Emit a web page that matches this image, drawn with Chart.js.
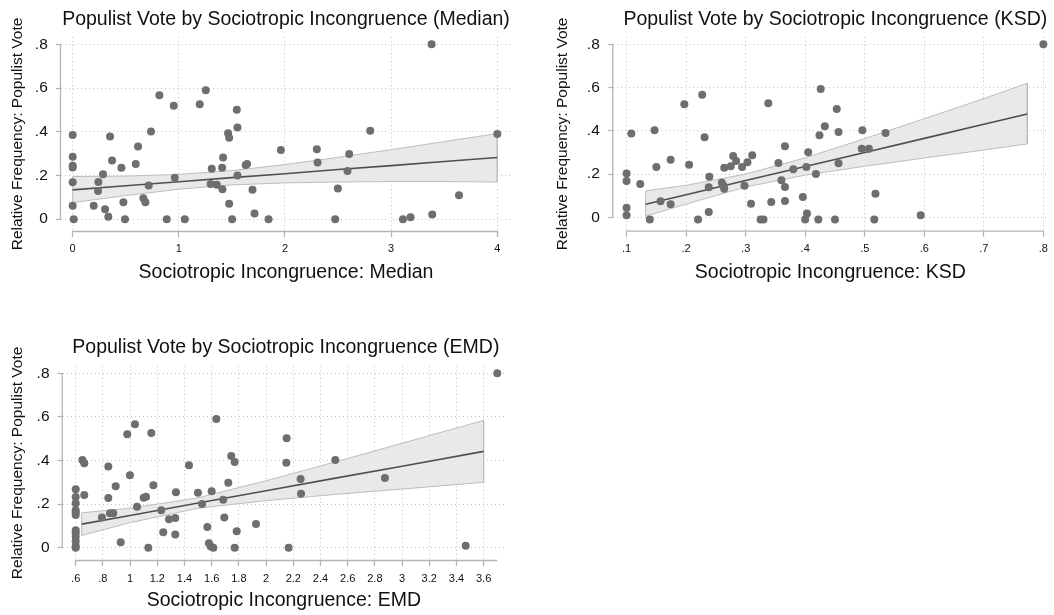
<!DOCTYPE html>
<html><head><meta charset="utf-8">
<script src="https://cdn.jsdelivr.net/npm/chart.js@4.4.1/dist/chart.umd.min.js"></script>
<style>
html,body{margin:0;padding:0;background:#fff;width:1054px;height:615px;overflow:hidden;}
canvas{position:absolute;}
</style></head><body>
<canvas id="c1" width="527" height="300" style="left:0px;top:0px;width:527px;height:300px"></canvas>
<canvas id="c2" width="527" height="300" style="left:527px;top:0px;width:527px;height:300px"></canvas>
<canvas id="c3" width="527" height="300" style="left:0px;top:315px;width:527px;height:300px"></canvas>
<script>
// ---------------- data ----------------
const yTicks = [0, 0.2, 0.4, 0.6, 0.8];
const yTickLabels = ['0', '.2', '.4', '.6', '.8'];

// Panel 1: Median
const medianTicks = [0, 1, 2, 3, 4];
const medianTickLabels = ['0', '1', '2', '3', '4'];
const medianX = [0,0,0,0,0,0,0.01,0.198,0.242,0.239,0.286,0.305,0.336,0.352,0.371,0.459,0.478,0.493,0.594,0.616,0.666,0.685,0.716,0.738,0.817,0.886,0.952,0.962,1.056,1.197,1.254,1.31,1.30,1.357,1.408,1.417,1.411,1.464,1.474,1.474,1.546,1.552,1.552,1.502,1.63,1.643,1.694,1.713,1.845,1.961,2.30,2.307,2.473,2.498,2.589,2.605,2.803,3.111,3.183,3.381,3.387,3.639,4.0];
const medianY = [0.385,0.286,0.244,0.236,0.169,0.062,0,0.062,0.17,0.129,0.206,0.046,0.011,0.378,0.268,0.235,0.078,0,0.253,0.332,0.096,0.078,0.154,0.401,0.567,0,0.519,0.19,0,0.526,0.59,0.231,0.161,0.158,0.235,0.282,0.137,0.393,0.372,0.071,0.501,0.42,0.2,0,0.248,0.253,0.135,0.026,0,0.317,0.32,0.259,0,0.14,0.221,0.298,0.404,0,0.009,0.8,0.021,0.11,0.39];
const medianFitX = [0, 0.5, 1, 1.5, 2, 2.5, 3, 3.5, 4];
const medianFit = [0.134, 0.153, 0.171, 0.190, 0.208, 0.227, 0.245, 0.264, 0.282];
const medianUpper = [0.195, 0.197, 0.205, 0.222, 0.250, 0.283, 0.318, 0.355, 0.392];
const medianLower = [0.076, 0.108, 0.137, 0.157, 0.166, 0.170, 0.172, 0.172, 0.170];

// Panel 2: KSD
const ksdTicks = [0.1, 0.2, 0.3, 0.4, 0.5, 0.6, 0.7, 0.8];
const ksdTickLabels = ['.1', '.2', '.3', '.4', '.5', '.6', '.7', '.8'];
const ksdX = [0.100,0.100,0.100,0.100,0.108,0.123,0.139,0.147,0.150,0.157,0.174,0.174,0.197,0.205,0.220,0.227,0.231,0.239,0.238,0.238,0.260,0.263,0.264,0.264,0.275,0.279,0.284,0.294,0.298,0.303,0.309,0.311,0.325,0.330,0.338,0.343,0.355,0.360,0.366,0.366,0.366,0.380,0.396,0.400,0.403,0.405,0.402,0.418,0.422,0.426,0.424,0.433,0.453,0.456,0.496,0.495,0.507,0.535,0.456,0.518,0.450,0.516,0.594,0.800];
const ksdY = [0.203,0.168,0.044,0.009,0.388,0.154,-0.01,0.402,0.233,0.074,0.266,0.060,0.523,0.243,-0.01,0.567,0.370,0.188,0.139,0.025,0.160,0.146,0.132,0.229,0.236,0.283,0.260,0.233,0.146,0.254,0.063,0.287,-0.01,-0.01,0.527,0.071,0.251,0.171,0.328,0.140,0.075,0.222,0.094,-0.01,0.018,0.301,0.233,0.200,-0.01,0.593,0.379,0.421,0.501,0.394,0.402,0.317,0.317,0.390,0.250,0.109,-0.01,-0.01,0.009,0.800];
const ksdFitX = [0.132, 0.2, 0.3, 0.4, 0.5, 0.6, 0.7, 0.773];
const ksdFit = [0.060, 0.104, 0.170, 0.235, 0.300, 0.365, 0.430, 0.478];
const ksdUpper = [0.122, 0.148, 0.200, 0.275, 0.364, 0.456, 0.549, 0.620];
const ksdLower = [0.005, 0.061, 0.140, 0.195, 0.236, 0.274, 0.311, 0.339];

// Panel 3: EMD
const emdTicks = [0.6, 0.8, 1, 1.2, 1.4, 1.6, 1.8, 2, 2.2, 2.4, 2.6, 2.8, 3, 3.2, 3.4, 3.6];
const emdTickLabels = ['.6', '.8', '1', '1.2', '1.4', '1.6', '1.8', '2', '2.2', '2.4', '2.6', '2.8', '3', '3.2', '3.4', '3.6'];
const emdX = [0.6,0.6,0.6,0.6,0.6,0.6,0.6,0.6,0.6,0.6,0.6,0.6,0.649,0.663,0.663,0.793,0.840,0.840,0.852,0.876,0.894,0.931,0.979,1.036,0.999,1.051,1.100,1.117,1.134,1.156,1.171,1.229,1.244,1.286,1.332,1.332,1.337,1.433,1.499,1.529,1.568,1.580,1.593,1.612,1.600,1.634,1.685,1.693,1.722,1.744,1.769,1.784,1.769,1.926,2.151,2.149,2.166,2.254,2.257,2.509,2.874,3.468,3.700];
const emdY = [0.268,0.233,0.204,0.172,0.160,0.150,0.080,0.066,0.050,0.030,0.008,0,0.402,0.387,0.242,0.138,0.372,0.228,0.158,0.158,0.282,0.025,0.520,0.566,0.332,0.188,0.229,0.234,0,0.526,0.286,0.172,0.071,0.130,0.136,0.061,0.254,0.378,0.252,0.200,0.095,0.020,0.005,0,0.259,0.590,0.220,0.139,0.298,0.421,0.393,0.075,0,0.109,0.502,0.390,0,0.315,0.248,0.402,0.320,0.009,0.800];
const emdFitX = [0.644, 1.0, 1.5, 2.0, 2.5, 3.0, 3.6];
const emdFit = [0.108, 0.148, 0.205, 0.261, 0.318, 0.374, 0.442];
const emdUpper = [0.160, 0.181, 0.229, 0.307, 0.392, 0.479, 0.584];
const emdLower = [0.056, 0.115, 0.181, 0.216, 0.244, 0.269, 0.300];

// ---------------- styling ----------------
const FONT = '"Liberation Sans", Arial, Helvetica, sans-serif';
const TEXT = '#111111';
const AXIS = '#b4b4b4';
const GRID = '#c2c2c2';
const DOT = '#6e6e6e';

const panelDecor = {
  id: 'panelDecor',
  beforeDatasetsDraw(chart, args, o) {
    const {ctx, chartArea: ca, scales: {x, y}} = chart;
    ctx.save();
    ctx.strokeStyle = AXIS;
    ctx.lineWidth = 1.3;
    ctx.beginPath();
    ctx.moveTo(x.getPixelForValue(o.xFrom), ca.bottom + 0.5);
    ctx.lineTo(x.getPixelForValue(o.xTo), ca.bottom + 0.5);
    ctx.moveTo(ca.left - 0.5, y.getPixelForValue(o.yFrom));
    ctx.lineTo(ca.left - 0.5, y.getPixelForValue(o.yTo));
    ctx.stroke();
    ctx.restore();
  },
  afterDraw(chart, args, o) {
    const {ctx, chartArea: ca} = chart;
    ctx.save();
    ctx.fillStyle = TEXT;
    ctx.font = '19.5px ' + FONT;
    ctx.textAlign = 'center';
    ctx.textBaseline = 'alphabetic';
    ctx.fillText(o.title, (ca.left + ca.right) / 2 + o.titleShift, o.titleBaseline);
    ctx.restore();
  }
};

function makePanel(id, p) {
  const pts = p.xs.map((v, i) => ({x: v, y: p.ys[i]}));
  const fit = p.fitX.map((v, i) => ({x: v, y: p.fit[i]}));
  const band = p.fitX.map((v, i) => ({x: v, y: p.upper[i]}))
    .concat(p.fitX.map((v, i) => ({x: v, y: p.lower[i]})).reverse());
  band.push({x: p.fitX[0], y: p.upper[0]});

  new Chart(document.getElementById(id), {
    type: 'scatter',
    data: {
      datasets: [
        {label: 'obs', data: pts, pointRadius: 4, pointHoverRadius: 4,
         pointBackgroundColor: DOT, pointBorderWidth: 0, clip: false},
        {label: 'fit', type: 'line', data: fit, borderColor: '#4f4f4f', borderWidth: 1.6,
         pointRadius: 0, fill: false, tension: 0},
        {label: 'ci', type: 'line', data: band, borderColor: '#bdbdbd', borderWidth: 1,
         backgroundColor: '#e9e9e9', pointRadius: 0, fill: 'shape', tension: 0}
      ]
    },
    options: {
      responsive: false,
      devicePixelRatio: 1,
      animation: false,
      events: [],
      layout: {padding: {left: 0, top: p.top, right: p.padRight, bottom: 0}},
      plugins: {
        legend: {display: false},
        tooltip: {enabled: false},
        title: {display: false},
        panelDecor: {title: p.title, titleBaseline: p.titleBaseline, titleShift: p.titleShift,
                     xFrom: p.axisFrom, xTo: p.axisTo, yFrom: 0, yTo: 0.8}
      },
      scales: {
        x: {
          type: 'linear', min: p.xMin, max: p.xMax,
          afterBuildTicks: s => { s.ticks = p.xTicks.map(v => ({value: v})); },
          afterFit: s => { s.height = p.xHeight; },
          ticks: {autoSkip: false, maxRotation: 0, minRotation: 0, padding: p.xTickPad,
                  color: TEXT, font: {family: FONT, size: 11},
                  callback: (v, i) => p.xLabels[i]},
          grid: {color: GRID, lineWidth: 1, drawTicks: true, tickLength: 6,
                 tickColor: AXIS, tickWidth: 1.3, tickBorderDash: []},
          border: {display: false, dash: [1, 3]},
          title: {display: true, text: p.xTitle, color: TEXT,
                  font: {family: FONT, size: 19.5}, padding: {top: 0, bottom: p.xTitlePad}}
        },
        y: {
          type: 'linear', min: p.yMin, max: p.yMax,
          afterBuildTicks: s => { s.ticks = yTicks.map(v => ({value: v})); },
          afterFit: s => { s.width = p.left; },
          ticks: {autoSkip: false, padding: p.yTickPad, color: TEXT,
                  font: {family: FONT, size: 15.5},
                  callback: (v, i) => yTickLabels[i]},
          grid: {color: GRID, lineWidth: 1, drawTicks: true, tickLength: 5,
                 tickColor: AXIS, tickWidth: 1.3, tickBorderDash: []},
          border: {display: false, dash: [1, 3]},
          title: {display: true, text: 'Relative Frequency: Populist Vote', color: TEXT,
                  font: {family: FONT, size: 15.5}, padding: {top: p.yTitlePad, bottom: 0}}
        }
      }
    },
    plugins: [panelDecor]
  });
}

makePanel('c1', {
  xs: medianX, ys: medianY, fitX: medianFitX, fit: medianFit, upper: medianUpper, lower: medianLower,
  xTicks: medianTicks, xLabels: medianTickLabels,
  title: 'Populist Vote by Sociotropic Incongruence (Median)', titleBaseline: 24.5, titleShift: 0,
  xTitle: 'Sociotropic Incongruence: Median',
  left: 61, top: 37, padRight: 16, xHeight: 69,
  xMin: -0.110, xMax: 4.129, yMin: -0.054, yMax: 0.8334,
  axisFrom: 0, axisTo: 4,
  xTickPad: 5.5, yTickPad: 8.2, xTitlePad: 15.3, yTitlePad: 8.2
});

makePanel('c2', {
  xs: ksdX, ys: ksdY, fitX: ksdFitX, fit: ksdFit, upper: ksdUpper, lower: ksdLower,
  xTicks: ksdTicks, xLabels: ksdTickLabels,
  title: 'Populist Vote by Sociotropic Incongruence (KSD)', titleBaseline: 24.5, titleShift: 5,
  xTitle: 'Sociotropic Incongruence: KSD',
  left: 86.3, top: 37, padRight: 2, xHeight: 69.3,
  xMin: 0.0777, xMax: 0.8066, yMin: -0.062, yMax: 0.8338,
  axisFrom: 0.1, axisTo: 0.8,
  xTickPad: 6, yTickPad: 8.5, xTitlePad: 15.3, yTitlePad: 26.3
});

makePanel('c3', {
  xs: emdX, ys: emdY, fitX: emdFitX, fit: emdFit, upper: emdUpper, lower: emdLower,
  xTicks: emdTicks, xLabels: emdTickLabels,
  title: 'Populist Vote by Sociotropic Incongruence (EMD)', titleBaseline: 38.2, titleShift: 2,
  xTitle: 'Sociotropic Incongruence: EMD',
  left: 62.7, top: 51, padRight: 22, xHeight: 55,
  xMin: 0.5044, xMax: 3.757, yMin: -0.0564, yMax: 0.8335,
  axisFrom: 0.6, axisTo: 3.7,
  xTickPad: 5.9, yTickPad: 8.2, xTitlePad: 3.0, yTitlePad: 8.2
});
</script>
</body></html>
